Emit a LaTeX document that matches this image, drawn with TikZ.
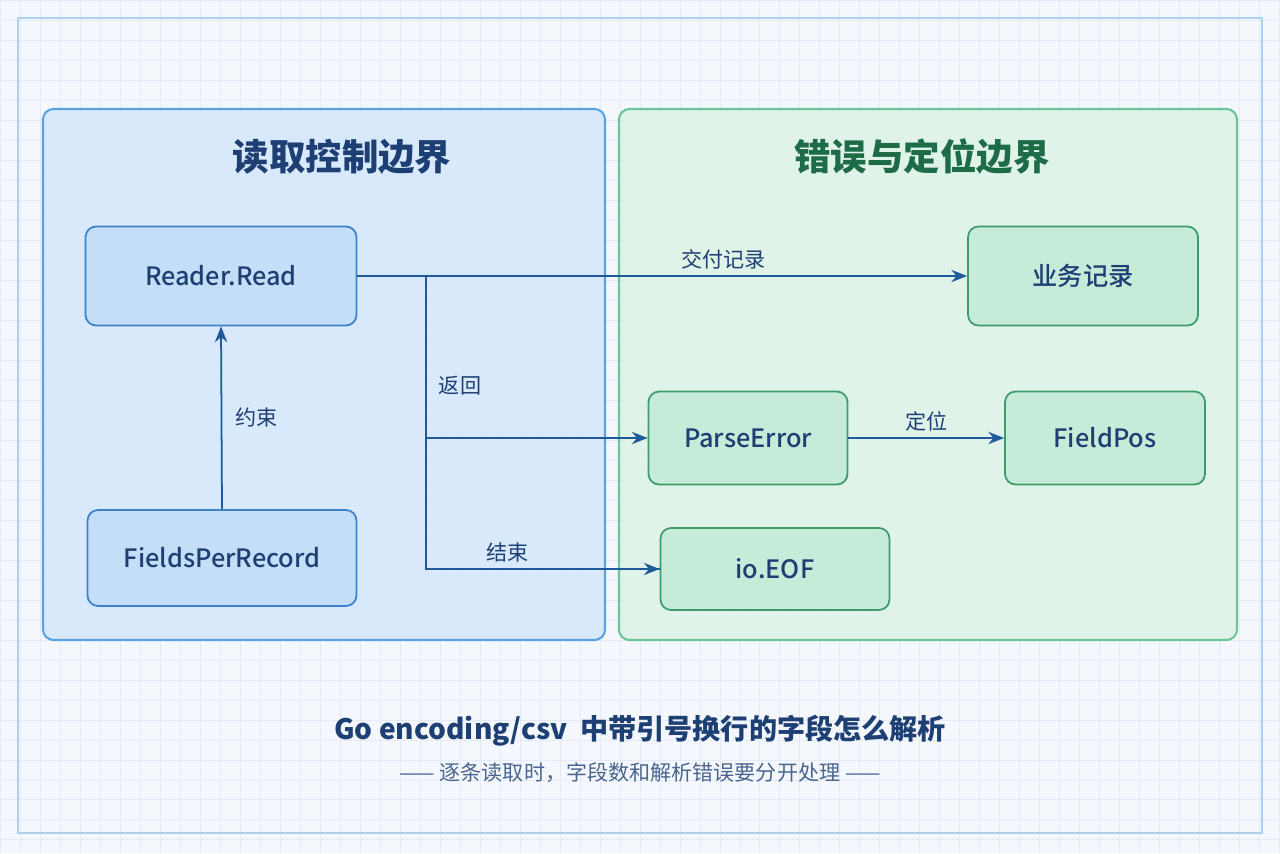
\documentclass[tikz,border=0pt]{standalone}
\usepackage{fontspec}
\setmainfont{Noto Sans CJK SC}
\newfontfamily\medfont{Noto Sans CJK SC Medium}
\usetikzlibrary{arrows.meta}
\definecolor{bluefill}{HTML}{D6E8FB}
\definecolor{blueline}{HTML}{5AA2E0}
\definecolor{boxblue}{HTML}{C4DEF7}
\definecolor{boxblueline}{HTML}{3D82C8}
\definecolor{greenfill}{HTML}{DDF3E8}
\definecolor{greenline}{HTML}{6CC59A}
\definecolor{boxgreen}{HTML}{C6EBD8}
\definecolor{boxgreenline}{HTML}{3C9C6E}
\definecolor{arrowblue}{HTML}{1F5A9A}
\definecolor{titleblue}{HTML}{1D3F73}
\definecolor{titlegreen}{HTML}{1E6B48}
\definecolor{gridc}{HTML}{E3ECF6}
\tikzset{
  bluebox/.style={rectangle, rounded corners=6pt, draw=boxblueline, fill=boxblue, line width=1pt, font=\Large\medfont, text=titleblue},
  greenbox/.style={rectangle, rounded corners=6pt, draw=boxgreenline, fill=boxgreen, line width=1pt, font=\Large\medfont, text=titleblue},
  flow/.style={-{Stealth[length=9pt,width=7pt]}, draw=arrowblue, line width=1pt},
  lbl/.style={draw=none, font=\large, text=titleblue}
}
\begin{document}
\begin{tikzpicture}[x=0.02cm, y=-0.02cm]
\useasboundingbox (0,0) rectangle (1280,853);
\fill[white!60!gridc] (0,0) rectangle (1280,853);
\draw[gridc, step=0.4cm] (0,0) grid (1280,853);
\draw[blueline!50, line width=0.6pt] (18,18) rectangle (1262,833);
%%%%%%%%%%%%%%%%%%%%%%%%%%%%%%% Panels
\draw[draw=blueline, fill=bluefill, fill opacity=0.9, rounded corners=6pt, line width=1.2pt] (43,109) rectangle (605,640);
\draw[draw=greenline, fill=greenfill, fill opacity=0.9, rounded corners=6pt, line width=1.2pt] (619,109) rectangle (1237,640);
\node[draw=none, text=titleblue, font=\huge\bfseries](tRead) at (342,157){读取控制边界};
\node[draw=none, text=titlegreen, font=\huge\bfseries](tErr) at (922,157){错误与定位边界};
%%%%%%%%%%%%%%%%%%%%%%%%%%%%%%% Boxes
\node[bluebox, minimum width=5.42cm, minimum height=1.98cm](readerRead) at (221,276){Reader.Read};
\node[bluebox, minimum width=5.38cm, minimum height=1.92cm](fieldsPer) at (222,558){FieldsPerRecord};
\node[greenbox, minimum width=4.6cm, minimum height=1.98cm](bizRec) at (1083,276){业务记录};
\node[greenbox, minimum width=3.98cm, minimum height=1.86cm](parseErr) at (748,438){ParseError};
\node[greenbox, minimum width=4.0cm, minimum height=1.86cm](fieldPos) at (1105,438){FieldPos};
\node[greenbox, minimum width=4.58cm, minimum height=1.64cm](ioEOF) at (775,569){io.EOF};
%%%%%%%%%%%%%%%%%%%%%%%%%%%%%%% Connectors
\coordinate (split) at (426,277);
\draw[flow] (readerRead.east) -- node[lbl, above, pos=0.6]{交付记录}(bizRec.west);
\draw[arrowblue, line width=1pt] (split) |- (ioEOF.west);
\draw[flow] (split |- parseErr.west) -- (parseErr.west);
\draw[flow] (split |- ioEOF.west) -- node[lbl, above, pos=0.35]{结束}(ioEOF.west);
\node[lbl](lblBack) at (460,386){返回};
\draw[flow] (fieldsPer.north) -- node[lbl, right, xshift=4pt]{约束}(readerRead.south);
\draw[flow] (parseErr.east) -- node[lbl, above]{定位}(fieldPos.west);
%%%%%%%%%%%%%%%%%%%%%%%%%%%%%%% Caption
\node[draw=none, text=titleblue, font=\fontsize{16}{20}\selectfont\bfseries](caption) at (640,731){Go encoding/csv\ \ 中带引号换行的字段怎么解析};
\node[draw=none, text=titleblue!80, font=\large](subcap) at (640,773){—— 逐条读取时，字段数和解析错误要分开处理 ——};
\end{tikzpicture}
\end{document}
